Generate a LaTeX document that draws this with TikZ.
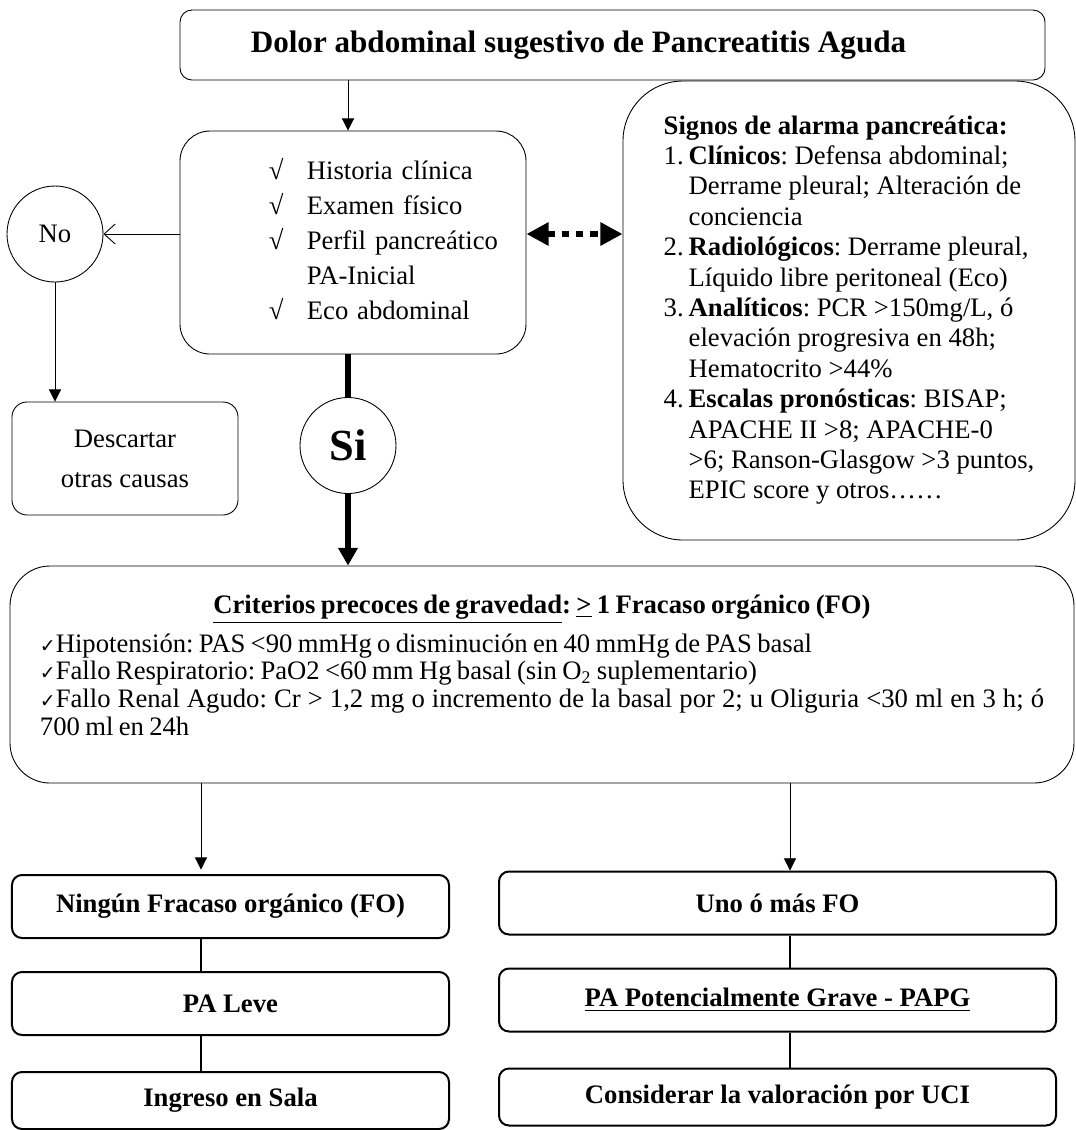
\documentclass[tikz,border=0pt]{standalone}
\usepackage{fontspec}
\setmainfont{Liberation Serif}
\newfontfamily\checkfont{DejaVu Sans}
\usetikzlibrary{arrows.meta, positioning}
\frenchspacing
\newcommand{\bodysize}{\fontsize{12pt}{14pt}\selectfont}
\newcommand{\okmark}{{\checkfont\fontsize{8.5pt}{12pt}\selectfont ✓}}
\tikzset{>={Triangle[length=5.5pt,width=5.5pt]}, line width=0.7pt,
    box/.style={rectangle,draw,rounded corners=4.5pt,inner sep=0pt,align=center,font=\bodysize},
    result/.style={box,line width=0.9pt,minimum height=28.35pt,font=\bodysize\bfseries},
    leftcol/.style={result,minimum width=196.65pt},
    rightcol/.style={result,minimum width=250.65pt},
    answer/.style={circle,draw,inner sep=0pt,minimum size=43.2pt},
    heavyarrow/.style={line width=2.6pt,-{Triangle[length=8pt,width=8.5pt]}},
    linkarrow/.style={line width=3pt,dash pattern=on 3.4pt off 3pt,{Triangle[length=10pt,width=10pt]}-{Triangle[length=10pt,width=10pt]}},
    openarrow/.style={-{Straight Barb[length=5pt,width=9pt]}},
    joint/.style={line width=0.5pt}}

\begin{document}
\begin{tikzpicture}[x=0.45pt,y=-0.45pt,node distance=43.65pt]
\useasboundingbox (0,0) rectangle (1076,1130);

% top of the chart
\node[box, rounded corners=5.4pt, minimum width=389.25pt, minimum height=31.5pt,
    label={[font=\fontsize{14pt}{16pt}\selectfont\bfseries, xshift=-15.3pt]center:Dolor abdominal sugestivo de Pancreatitis Aguda}] (dolor) at (612.5,45) {};

\node[box, rounded corners=13.5pt, text width=155.7pt, minimum height=100.35pt, align=left,
    font=\fontsize{12pt}{15.75pt}\selectfont] (examen) at (353,242.5)
    {\hspace*{40pt}\begin{tabular}{@{}p{17.1pt}@{}l@{}}
    √ & Historia clínica\\
    √ & Examen físico\\
    √ & Perfil pancreático\\
      & PA-Inicial\\
    √ & Eco abdominal
    \end{tabular}};

\node[answer, font=\bodysize] (no) at (55,234) {No};
\node[box, rounded corners=6.75pt, minimum width=101.7pt, minimum height=50.85pt,
    font=\fontsize{12pt}{18pt}\selectfont] (descartar) at (125,458.5) {Descartar\\otras causas};
\node[answer, font=\fontsize{20pt}{24pt}\selectfont\bfseries] (si) at (348,445.5) {Si};

\node[box, rounded corners=27pt, minimum width=203.4pt, minimum height=206.55pt,
    font=\fontsize{12pt}{13.68pt}\selectfont] (alarma) at (849,310.5)
    {\begin{tabular}{@{}p{11.25pt}@{}l@{}}
    \multicolumn{2}{@{}l@{}}{\textbf{Signos de alarma pancreática:}}\\
    1. & \textbf{Clínicos}: Defensa abdominal;\\
       & Derrame pleural; Alteración de\\
       & conciencia\\
    2. & \textbf{Radiológicos}: Derrame pleural,\\
       & Líquido libre peritoneal (Eco)\\
    3. & \textbf{Analíticos}: PCR >150mg/L, ó\\
       & elevación progresiva en 48h;\\
       & Hematocrito >44\%\\
    4. & \textbf{Escalas pronósticas}: BISAP;\\
       & APACHE II >8; APACHE-0\\
       & >6; Ranson-Glasgow >3 puntos,\\
       & EPIC score y otros……
    \end{tabular}};

% criteria
\node[box, rounded corners=18pt, text width=451.8pt, inner xsep=13.5pt, minimum height=97.65pt,
    align=left, text depth=63pt, font=\fontsize{12pt}{12.46pt}\selectfont] (criterios) at (542,674.5)
    {\spaceskip=0.2em plus 0.1em minus 0.06em\relax
    \makebox[\linewidth]{\textbf{\underline{Criterios precoces de gravedad}: \underline{>} 1 Fracaso orgánico (FO)}}\\[3.3pt]
    \okmark Hipotensión: PAS <90 mmHg o disminución en 40 mmHg de PAS basal\\
    \okmark Fallo Respiratorio: PaO2 <60 mm Hg basal (sin O\textsubscript{2} suplementario)\\
    \makebox[\linewidth][s]{\okmark Fallo Renal Agudo: Cr > 1,2 mg o incremento de la basal por 2; u Oliguria <30 ml en 3 h; ó}\\
    700 ml en 24h};

% outcomes
\node[leftcol] (ningun) at (230.5,906.5) {Ningún Fracaso orgánico (FO)};
\node[leftcol] (leve) [below of = ningun] {PA Leve};
\node[leftcol, minimum height=25.65pt] (sala) [below of = leve] {Ingreso en Sala};
\node[rightcol] (uno) at (777.5,903) {Uno ó más FO};
\node[rightcol] (papg) [below of = uno] {\underline{PA Potencialmente Grave - PAPG}};
\node[rightcol, minimum height=25.65pt] (uci) [below of = papg] {Considerar la valoración por UCI};

\coordinate (izq) at (201,0);
\coordinate (der) at (790,0);

\draw[->] (dolor.south -| si) -- (examen.north -| si);
\draw[openarrow] (examen.west |- no) -- (no);
\draw[->] (no) -- (descartar.north -| no);
\draw[line width=2.6pt] (examen.south -| si) -- (si);
\draw[heavyarrow] (si) -- (criterios.north -| si);
\draw[linkarrow] (examen.east |- no) -- (alarma.west |- no);
\draw[->, shorten >=2pt] (criterios.south -| izq) -- (ningun.north -| izq);
\draw[->] (criterios.south -| der) -- (uno.north -| der);
\draw[joint] (ningun.south -| izq) -- (leve.north -| izq);
\draw[joint] (leve.south -| izq) -- (sala.north -| izq);
\draw[joint] (uno.south -| der) -- (papg.north -| der);
\draw[joint] (papg.south -| der) -- (uci.north -| der);
\end{tikzpicture}
\end{document}
